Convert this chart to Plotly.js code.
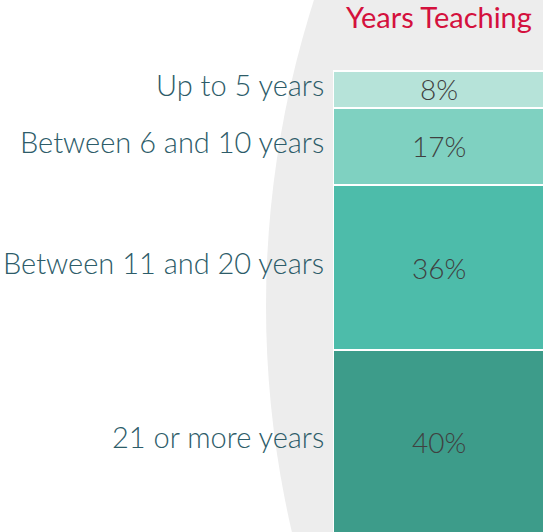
<!DOCTYPE html>
<html>
<head>
<meta charset="utf-8">
<script src="https://cdn.plot.ly/plotly-3.0.1.min.js"></script>
<style>html,body{margin:0;padding:0;background:#fff;}#chart{width:543px;height:532px;}</style>
</head>
<body>
<div id="chart"></div>
<script>
// Data (bottom segment first)
const categories = ["21 or more years", "Between 11 and 20 years", "Between 6 and 10 years", "Up to 5 years"];
const values = [40, 36, 17, 8];
const colors = ["#3D9C8A", "#4DBCAA", "#7FD1C1", "#B6E3D9"];
const chartTitle = "Years Teaching";

const W = 543, H = 532;
const traces = categories.map((c, i) => ({
  type: "bar",
  x: [0],
  y: [values[i]],
  width: [1],
  name: c,
  marker: {color: colors[i], line: {color: "#ffffff", width: 2}},
  text: [values[i] + "%"],
  texttemplate: "%{text}",
  textposition: "inside",
  insidetextanchor: "middle",
  textangle: 0,
  constraintext: "none",
  textfont: {family: "Lato, sans-serif", size: 28, weight: 300, color: "#404040"},
  hoverinfo: "skip",
  showlegend: false
}));

// category labels at each segment's midpoint (via y axis)
let cum = 0;
const annotations = categories.map((c, i) => {
  const mid = cum + values[i] / 2;
  cum += values[i];
  return {
    text: c, xref: "paper", yref: "y", x: 326 / W, y: mid, yshift: 5,
    xanchor: "right", yanchor: "middle", showarrow: false,
    font: {family: "Lato, sans-serif", size: 29, weight: 300, color: "#2D5C69"}
  };
});

const layout = {
  width: W, height: H,
  margin: {l: 0, r: 0, t: 0, b: 0, pad: 0},
  paper_bgcolor: "#ffffff",
  plot_bgcolor: "rgba(0,0,0,0)",
  barmode: "stack",
  showlegend: false,
  title: {
    text: chartTitle, x: 439 / W, xanchor: "center", xref: "paper",
    y: 1 - 18 / H, yanchor: "middle", yref: "container",
    font: {family: "Lato, sans-serif", size: 29, color: "#D4113D"}
  },
  xaxis: {domain: [333 / W, 1], range: [-0.5, 0.49], visible: false, fixedrange: true},
  yaxis: {domain: [0, 1], range: [0.22, 116.52], visible: false, fixedrange: true},
  shapes: [{
    type: "circle", layer: "below", xref: "paper", yref: "paper",
    x0: 266 / W, x1: 2266 / W,
    y0: (H - 1306) / H, y1: (H + 694) / H,
    fillcolor: "#EDEDED", line: {width: 0}
  }],
  annotations: annotations
};

Plotly.newPlot("chart", traces, layout, {displayModeBar: false, staticPlot: true});
</script>
</body>
</html>
